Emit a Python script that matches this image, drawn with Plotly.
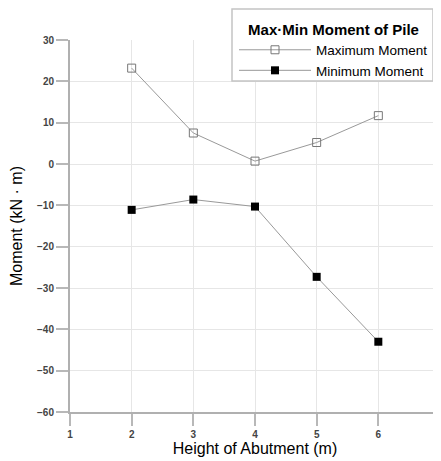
import plotly.graph_objects as go

heights = [2, 3, 4, 5, 6]
max_moment = [23.2, 7.5, 0.7, 5.2, 11.7]
min_moment = [-11.1, -8.6, -10.3, -27.3, -43.0]
x_ticks = [1, 2, 3, 4, 5, 6, 7]
y_ticks = [30, 20, 10, 0, -10, -20, -30, -40, -50, -60]

fig = go.Figure()
fig.add_trace(go.Scatter(
    x=heights, y=max_moment, mode="lines+markers", name="Maximum Moment",
    line=dict(color="#999999", width=1),
    marker=dict(symbol="square-open", size=8, color="#777777", line=dict(width=1)),
))
fig.add_trace(go.Scatter(
    x=heights, y=min_moment, mode="lines+markers", name="Minimum Moment",
    line=dict(color="#999999", width=1),
    marker=dict(symbol="square", size=8, color="#000000"),
))

# page body has an 8px default margin, so the figure is sized/positioned to compensate
W, H = 433, 453
L, R, T, B = 62, 1, 32, 49
pw, ph = W - L - R, H - T - B

def px(x):
    return (x - L) / pw

def py(y):
    return 1 - (y - T) / ph

# legend frame
fig.add_shape(
    type="rect", xref="paper", yref="paper",
    x0=px(224), x1=px(425), y0=py(73), y1=py(1),
    fillcolor="white", line=dict(color="#c4c4c4", width=1.5), layer="above",
)

fig.update_layout(
    width=W, height=H,
    margin=dict(l=L, r=R, t=T, b=B, autoexpand=False),
    plot_bgcolor="white", paper_bgcolor="white",
    font=dict(family="Liberation Sans, Arial, sans-serif", color="#000000"),
    legend=dict(
        title=dict(text="<b>Max·Min Moment of Pile</b>", font=dict(size=15), side="top center"),
        xref="container", yref="container",
        x=226 / W, y=1 - 7 / H, xanchor="left", yanchor="top",
        bgcolor="rgba(0,0,0,0)", borderwidth=0,
        font=dict(size=13.5), tracegroupgap=0, itemwidth=72,
    ),
    showlegend=True,
)
fig.update_xaxes(
    range=[1, 7], tickvals=x_ticks, showgrid=True, gridcolor="#e6e6e6",
    showline=True, linecolor="#b0b0b0", linewidth=2, ticks="outside", ticklen=12,
    tickcolor="#b8b8b8", tickwidth=1.5, zeroline=False, automargin=False,
    ticklabeloverflow="allow",
    tickfont=dict(size=10, color="#444444", weight="bold"),
    title=dict(text="Height of Abutment (m)", font=dict(size=16), standoff=4),
)
fig.update_yaxes(
    range=[-60, 30], tickvals=y_ticks, showgrid=True, gridcolor="#e6e6e6",
    showline=True, linecolor="#b0b0b0", linewidth=2, ticks="outside", ticklen=12,
    tickcolor="#b8b8b8", tickwidth=1.5, zeroline=False, automargin=False,
    ticklabeloverflow="allow",
    tickfont=dict(size=10, color="#444444", weight="bold"),
    title=dict(text="Moment (kN · m)", font=dict(size=16), standoff=14),
)
fig.write_html("out.html")
